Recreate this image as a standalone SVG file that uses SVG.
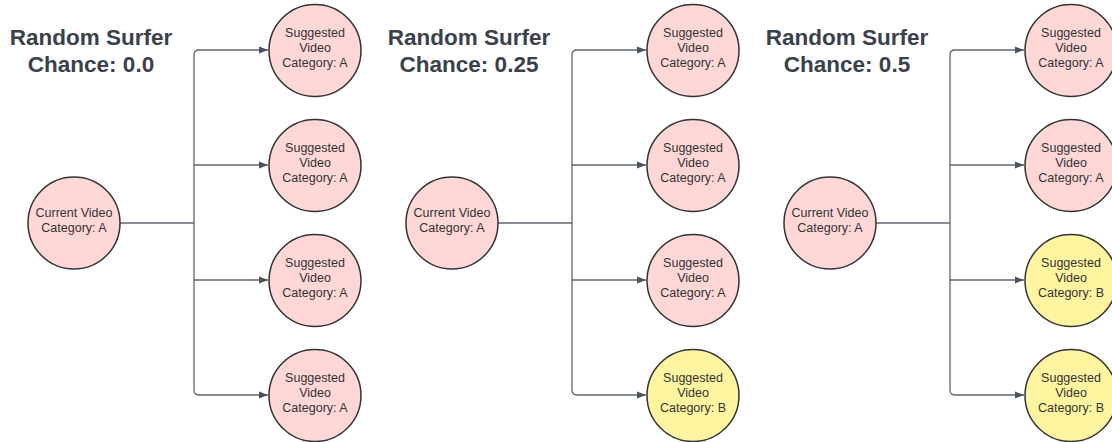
<svg xmlns="http://www.w3.org/2000/svg" width="1112" height="442" viewBox="0 0 1112 442">
<defs>
<marker id="arr" markerWidth="10" markerHeight="8" refX="9" refY="4" orient="auto" markerUnits="userSpaceOnUse">
<path d="M0,0.5 L9,4 L0,7.5 Z" fill="#4a525c"/>
</marker>
<style>
.title{font-family:"Liberation Sans",Arial,sans-serif;font-weight:bold;font-size:22.5px;fill:#3a414a;text-anchor:middle}
.lbl{font-family:"Liberation Sans",Arial,sans-serif;font-size:12.5px;fill:#333;text-anchor:middle}
.pink{fill:#ffd7d7;stroke:#333;stroke-width:1.5}
.yel{fill:#fff5a0;stroke:#333;stroke-width:1.5}
.con{fill:none;stroke:#5f6670;stroke-width:1.3}
</style>
</defs>
<rect width="1112" height="442" fill="#fff"/>

<!-- Panel 1 -->
<g id="title1"><text class="title" x="91" y="45">Random Surfer</text><text class="title" x="91" y="72">Chance: 0.0</text></g>
<g id="connectors1">
<path class="con" d="M120,223 H194"/>
<path class="con" d="M194,223 V55 Q194,50 199,50 H268" marker-end="url(#arr)"/>
<path class="con" d="M194,165 H268" marker-end="url(#arr)"/>
<path class="con" d="M194,280 H268" marker-end="url(#arr)"/>
<path class="con" d="M194,223 V390 Q194,395 199,395 H268" marker-end="url(#arr)"/>
</g>
<g id="cur1"><circle class="pink" cx="74" cy="223" r="46"/><text class="lbl" x="74" y="217">Current Video</text><text class="lbl" x="74" y="232">Category: A</text></g>
<g id="s1a"><circle class="pink" cx="315" cy="50.5" r="46"/><text class="lbl" x="315" y="37">Suggested</text><text class="lbl" x="315" y="52">Video</text><text class="lbl" x="315" y="67">Category: A</text></g>
<g id="s1b"><circle class="pink" cx="315" cy="165.5" r="46"/><text class="lbl" x="315" y="152">Suggested</text><text class="lbl" x="315" y="167">Video</text><text class="lbl" x="315" y="182">Category: A</text></g>
<g id="s1c"><circle class="pink" cx="315" cy="280.5" r="46"/><text class="lbl" x="315" y="267">Suggested</text><text class="lbl" x="315" y="282">Video</text><text class="lbl" x="315" y="297">Category: A</text></g>
<g id="s1d"><circle class="pink" cx="315" cy="395.5" r="46"/><text class="lbl" x="315" y="382">Suggested</text><text class="lbl" x="315" y="397">Video</text><text class="lbl" x="315" y="412">Category: A</text></g>

<!-- Panel 2 -->
<g id="title2"><text class="title" x="469" y="45">Random Surfer</text><text class="title" x="469" y="72">Chance: 0.25</text></g>
<g id="connectors2">
<path class="con" d="M498,223 H572"/>
<path class="con" d="M572,223 V55 Q572,50 577,50 H646" marker-end="url(#arr)"/>
<path class="con" d="M572,165 H646" marker-end="url(#arr)"/>
<path class="con" d="M572,280 H646" marker-end="url(#arr)"/>
<path class="con" d="M572,223 V390 Q572,395 577,395 H646" marker-end="url(#arr)"/>
</g>
<g id="cur2"><circle class="pink" cx="452" cy="223" r="46"/><text class="lbl" x="452" y="217">Current Video</text><text class="lbl" x="452" y="232">Category: A</text></g>
<g id="s2a"><circle class="pink" cx="693" cy="50.5" r="46"/><text class="lbl" x="693" y="37">Suggested</text><text class="lbl" x="693" y="52">Video</text><text class="lbl" x="693" y="67">Category: A</text></g>
<g id="s2b"><circle class="pink" cx="693" cy="165.5" r="46"/><text class="lbl" x="693" y="152">Suggested</text><text class="lbl" x="693" y="167">Video</text><text class="lbl" x="693" y="182">Category: A</text></g>
<g id="s2c"><circle class="pink" cx="693" cy="280.5" r="46"/><text class="lbl" x="693" y="267">Suggested</text><text class="lbl" x="693" y="282">Video</text><text class="lbl" x="693" y="297">Category: A</text></g>
<g id="s2d"><circle class="yel" cx="693" cy="395.5" r="46"/><text class="lbl" x="693" y="382">Suggested</text><text class="lbl" x="693" y="397">Video</text><text class="lbl" x="693" y="412">Category: B</text></g>

<!-- Panel 3 -->
<g id="title3"><text class="title" x="847" y="45">Random Surfer</text><text class="title" x="847" y="72">Chance: 0.5</text></g>
<g id="connectors3">
<path class="con" d="M876,223 H950"/>
<path class="con" d="M950,223 V55 Q950,50 955,50 H1024" marker-end="url(#arr)"/>
<path class="con" d="M950,165 H1024" marker-end="url(#arr)"/>
<path class="con" d="M950,280 H1024" marker-end="url(#arr)"/>
<path class="con" d="M950,223 V390 Q950,395 955,395 H1024" marker-end="url(#arr)"/>
</g>
<g id="cur3"><circle class="pink" cx="830" cy="223" r="46"/><text class="lbl" x="830" y="217">Current Video</text><text class="lbl" x="830" y="232">Category: A</text></g>
<g id="s3a"><circle class="pink" cx="1071" cy="50.5" r="46"/><text class="lbl" x="1071" y="37">Suggested</text><text class="lbl" x="1071" y="52">Video</text><text class="lbl" x="1071" y="67">Category: A</text></g>
<g id="s3b"><circle class="pink" cx="1071" cy="165.5" r="46"/><text class="lbl" x="1071" y="152">Suggested</text><text class="lbl" x="1071" y="167">Video</text><text class="lbl" x="1071" y="182">Category: A</text></g>
<g id="s3c"><circle class="yel" cx="1071" cy="280.5" r="46"/><text class="lbl" x="1071" y="267">Suggested</text><text class="lbl" x="1071" y="282">Video</text><text class="lbl" x="1071" y="297">Category: B</text></g>
<g id="s3d"><circle class="yel" cx="1071" cy="395.5" r="46"/><text class="lbl" x="1071" y="382">Suggested</text><text class="lbl" x="1071" y="397">Video</text><text class="lbl" x="1071" y="412">Category: B</text></g>
</svg>
